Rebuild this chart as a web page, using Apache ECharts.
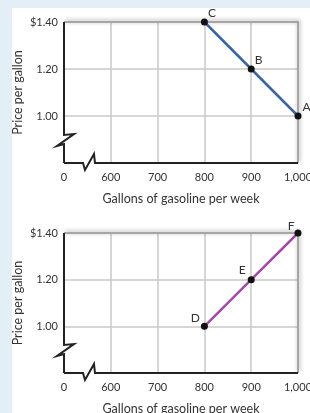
<!DOCTYPE html>
<html>
<head>
<meta charset="utf-8">
<script src="https://cdn.jsdelivr.net/npm/echarts@6/dist/echarts.min.js"></script>
<style>
  html, body { margin: 0; padding: 0; background: #e4eef7; }
  #panel { position: absolute; left: 12px; top: 8px; right: 0; bottom: 0; background: #fff; }
  #chart { position: absolute; left: 0; top: 0; width: 310px; height: 413px; }
</style>
</head>
<body>
<div id="panel"></div>
<div id="chart"></div>
<script>
// axis ticks (first x tick stands for the broken "0")
const xTicks = [500, 600, 700, 800, 900, 1000];
const xLabels = ['0', '600', '700', '800', '900', '1,000'];
const yTicks = [0.8, 1.0, 1.2, 1.4];
const yLabels = ['', '1.00', '1.20', '$1.40'];

// top panel: points A, B, C
const demandNames = ['A', 'B', 'C'];
const demandQty = [1000, 900, 800];
const demandPrice = [1.00, 1.20, 1.40];

// bottom panel: points D, E, F
const supplyNames = ['D', 'E', 'F'];
const supplyQty = [800, 900, 1000];
const supplyPrice = [1.00, 1.20, 1.40];

const font = 'Lato, "Open Sans", sans-serif';
const textColor = '#333';

const labelStyle = {
  A: { position: 'right', distance: 1, offset: [0, -9] },
  B: { position: 'right', distance: 0, offset: [0, -9] },
  C: { position: 'right', distance: 0, offset: [0, -9] },
  D: { position: 'left', distance: 1, offset: [0, -8] },
  E: { position: 'left', distance: 2, offset: [0, -10] },
  F: { position: 'left', distance: 0, offset: [0, -7] },
};

function pointData(names, qty, price) {
  return names.map((n, i) => ({
    value: [qty[i], price[i]],
    name: n,
    label: Object.assign({ show: true, formatter: n, fontSize: 12, color: textColor, fontFamily: font }, labelStyle[n]),
  }));
}

function xAxis(gridIndex) {
  return {
    type: 'value', gridIndex,
    min: xTicks[0], max: xTicks[xTicks.length - 1], interval: 100,
    name: 'Gallons of gasoline per week', nameLocation: 'middle', nameGap: 29,
    nameMoveOverlap: false,
    nameTextStyle: { fontSize: 12.5, color: textColor, fontFamily: font },
    axisLine: { show: false }, axisTick: { show: false },
    axisLabel: {
      margin: 9, fontSize: 11, color: textColor, fontFamily: font,
      formatter: v => xLabels[xTicks.indexOf(v)] ?? '',
    },
    splitLine: { show: true, showMinLine: false, showMaxLine: false, lineStyle: { color: '#c8c8c8', width: 1.5 } },
  };
}

function yAxis(gridIndex) {
  return {
    type: 'value', gridIndex,
    min: 0.8, max: 1.4, interval: 0.2,
    name: 'Price per gallon', nameLocation: 'middle', nameGap: 40,
    nameMoveOverlap: false,
    nameTextStyle: { fontSize: 12.5, color: textColor, fontFamily: font },
    axisLine: { show: false }, axisTick: { show: false },
    axisLabel: {
      margin: 6, fontSize: 11, color: textColor, fontFamily: font,
      formatter: v => yLabels[yTicks.findIndex(t => Math.abs(t - v) < 1e-6)] ?? '',
    },
    splitLine: { show: true, showMinLine: false, showMaxLine: false, lineStyle: { color: '#c8c8c8', width: 1.5 } },
  };
}

// frame: gray top/right border and black axes with break marks
function frameSeries(idx) {
  return {
    type: 'custom', xAxisIndex: idx, yAxisIndex: idx, silent: true, z: 1,
    data: [[xTicks[0], yTicks[0]]],
    renderItem: (params, api) => {
      const o = api.coord([xTicks[0], yTicks[0]]);
      const t = api.coord([xTicks[0], yTicks[yTicks.length - 1]]);
      const r = api.coord([xTicks[xTicks.length - 1], yTicks[0]]);
      const ox = o[0], oy = o[1], ty = t[1], rx = r[0];
      return {
        type: 'group',
        children: [
          {
            type: 'polyline',
            shape: { points: [[ox, ty], [rx, ty], [rx, oy]] },
            style: { stroke: '#a6a6a6', lineWidth: 2, fill: null, shadowBlur: 4, shadowColor: 'rgba(0,0,0,0.35)', shadowOffsetX: 1, shadowOffsetY: -1 },
          },
          {
            type: 'polyline',
            shape: { points: [[ox, ty], [ox, oy - 28], [ox + 10, oy - 29], [ox - 7, oy - 17], [ox, oy - 19], [ox, oy]] },
            style: { stroke: '#222', lineWidth: 2, fill: null, lineJoin: 'miter' },
          },
          {
            type: 'polyline',
            shape: { points: [[ox, oy], [ox + 19, oy], [ox + 21, oy + 7], [ox + 30, oy - 9], [ox + 31, oy], [rx, oy]] },
            style: { stroke: '#222', lineWidth: 2, fill: null, lineJoin: 'miter' },
          },
        ],
      };
    },
  };
}

function lineSeries(idx, names, qty, price, color) {
  return {
    type: 'line', xAxisIndex: idx, yAxisIndex: idx, z: 3,
    data: pointData(names, qty, price),
    symbol: 'circle', symbolSize: 7,
    itemStyle: { color: '#111' },
    lineStyle: { color, width: 2.5 },
    animation: false,
  };
}

const chart = echarts.init(document.getElementById('chart'), null, { renderer: 'canvas' });
chart.setOption({
  animation: false,
  backgroundColor: 'transparent',
  textStyle: { fontFamily: font },
  grid: [
    { left: 64, right: 12, top: 22, height: 141, outerBoundsMode: 'none' },
    { left: 64, right: 12, top: 233, height: 140, outerBoundsMode: 'none' },
  ],
  xAxis: [xAxis(0), xAxis(1)],
  yAxis: [yAxis(0), yAxis(1)],
  series: [
    frameSeries(0),
    frameSeries(1),
    lineSeries(0, demandNames, demandQty, demandPrice, '#3a64a4'),
    lineSeries(1, supplyNames, supplyQty, supplyPrice, '#a04aa6'),
  ],
});
</script>
</body>
</html>
